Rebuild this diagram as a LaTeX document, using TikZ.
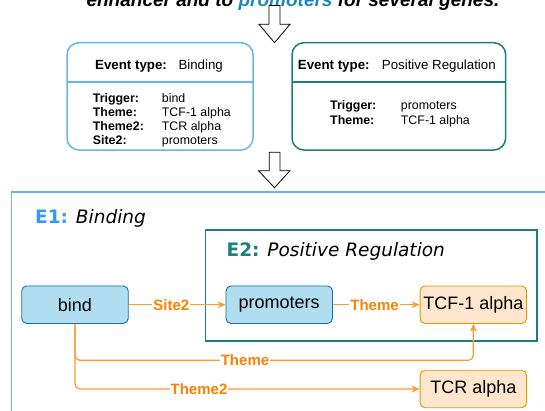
\documentclass[tikz,border=0pt]{standalone}
\usepackage{fontspec}
\setmainfont{Liberation Sans}
\newfontfamily\dejavu{DejaVu Sans}
\usetikzlibrary{arrows.meta}
\definecolor{eonecol}{HTML}{66B2FF}
\definecolor{eonetext}{HTML}{3399FF}
\definecolor{tealcol}{HTML}{1A7F80}
\definecolor{nblue}{HTML}{B1DDF0}
\definecolor{nbluedraw}{HTML}{10739E}
\definecolor{norange}{HTML}{FFE6CC}
\definecolor{norangedraw}{HTML}{D79B00}
\definecolor{edgecol}{HTML}{FF9933}
\definecolor{lblcol}{HTML}{FF8000}
\definecolor{promblue}{HTML}{1F87B8}
\begin{document}
\begin{tikzpicture}[x=1pt,y=-1pt,
  hdr/.style={anchor=base west, inner sep=0pt, font=\fontsize{13.3}{15}\selectfont},
  hdrb/.style={hdr, font=\fontsize{13.3}{15}\selectfont\bfseries},
  row/.style={anchor=base west, inner sep=0pt, font=\fontsize{12.4}{14}\selectfont},
  rowb/.style={row, font=\fontsize{12.4}{14}\selectfont\bfseries},
  ent/.style={draw=nbluedraw, fill=nblue, rounded corners=5pt, minimum width=106.5pt,
    minimum height=37.5pt, line width=0.9pt, font=\fontsize{18}{20}\selectfont, inner sep=0pt},
  arg/.style={ent, draw=norangedraw, fill=norange},
  edge/.style={draw=edgecol, line width=1.2pt, -{Stealth[length=8pt,width=7pt]}},
  lbl/.style={fill=white, text=lblcol, font=\fontsize{15}{16}\selectfont\bfseries, inner sep=1pt},
  blockarrow/.style={draw=black, fill=white, line width=0.8pt, line join=miter},
  evframe/.style={line width=1.5pt, rounded corners=12pt}
]
\useasboundingbox (0,0) rectangle (545,410);
\clip (0,0) rectangle (545,410);

% headline (cut off at top)
\node[anchor=base, inner sep=0pt, font=\fontsize{19}{20}\selectfont\bfseries\itshape] (headline) at (293,6)
  {enhancer and to \textcolor{promblue}{promoters} for several genes.};

% block arrows
\draw[blockarrow] (269,5.5) -- (280,5.5) -- (280,24.3) -- (290,24.3) -- (274.5,42.7) -- (259,24.3) -- (269,24.3) -- cycle;
\draw[blockarrow] (269.3,152.3) -- (280,152.3) -- (280,170.7) -- (290,170.7) -- (274.5,187.7) -- (258.5,170.7) -- (269.3,170.7) -- cycle;

% event type box 1
\draw[evframe, draw=eonecol] (67,42.7) rectangle (253,150);
\draw[draw=eonecol, line width=1.5pt] (67,82) -- (253,82);
\node[hdrb] (etone) at (95,69.5) {Event type:};
\node[hdr] (etonev) at (178.3,69.5) {Binding};
\node[rowb] (rone) at (92.7,102.3) {Trigger:};
\node[row] (ronev) at (161.7,102.3) {bind};
\node[rowb] (rtwo) at (92.7,116.3) {Theme:};
\node[row] (rtwov) at (161.7,116.3) {TCF-1 alpha};
\node[rowb] (rthree) at (92.7,130.3) {Theme2:};
\node[row] (rthreev) at (161.7,130.3) {TCR alpha};
\node[rowb] (rfour) at (92.7,144) {Site2:};
\node[row] (rfourv) at (161.7,144) {promoters};

% event type box 2
\draw[evframe, draw=tealcol] (292,42.7) rectangle (505.7,150);
\draw[draw=tealcol, line width=1.5pt] (292,82) -- (505.7,82);
\node[hdrb] (ettwo) at (297.7,69.5) {Event type:};
\node[hdr] (ettwov) at (381.7,69.5) {Positive Regulation};
\node[rowb] (sone) at (330,109) {Trigger:};
\node[row] (sonev) at (400.7,109) {promoters};
\node[rowb] (stwo) at (330,124) {Theme:};
\node[row] (stwov) at (400.7,124) {TCF-1 alpha};

% E1 and E2 frames
\draw[draw=eonecol, line width=1.8pt] (11.5,192.3) rectangle (560,430);
\node[anchor=base west, inner sep=0pt, font=\dejavu\fontsize{18.5}{20}\selectfont] (eonelabel) at (35,223.3)
  {\textcolor{eonetext}{\bfseries E1:} \itshape Binding};
\draw[draw=tealcol, line width=1.8pt] (205.5,230) rectangle (536.6,341);
\node[anchor=base west, inner sep=0pt, font=\dejavu\fontsize{18.5}{20}\selectfont] (etwolabel) at (226.5,256)
  {\textcolor{tealcol}{\bfseries E2:} \itshape Positive Regulation};

% graph nodes
\node[ent] (bind) at (75,304.7) {bind};
\node[ent] (prom) at (279.2,304.7) {promoters};
\node[arg] (tcf) at (473.3,304.7) {TCF-1 alpha};
\node[arg] (tcr) at (473.3,389) {TCR alpha};

% connectors
\draw[edge] (bind) -- node[lbl, pos=0.44] (lsite) {Site2} (prom);
\draw[edge] (prom) -- node[lbl, pos=0.48] (ltheme) {Theme} (tcf);
\coordinate (themeturn) at (473.3,360.3);
\draw[edge, rounded corners=5pt] (bind.south) |- (themeturn) -- (tcf.south);
\node[lbl] (lthemelong) at (245,360.3) {Theme};
\draw[edge, rounded corners=5pt] (bind.south) |- (tcr.west);
\node[lbl] (lthemetwo) at (199,389) {Theme2};
\end{tikzpicture}
\end{document}
